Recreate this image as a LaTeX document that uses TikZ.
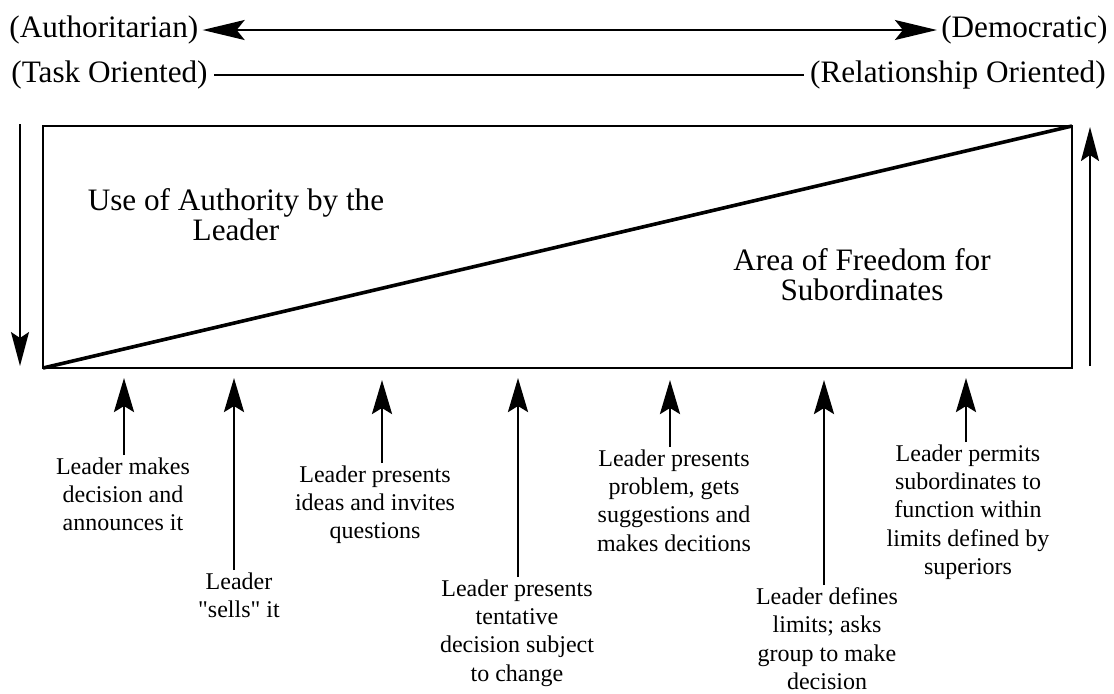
\documentclass[tikz,border=0pt]{standalone}
\usepackage{fontspec}
\setmainfont{Liberation Serif}
\newfontfamily\figfont{Liberation Serif}
\usetikzlibrary{arrows.meta, positioning}

\tikzset{
  bigtext/.style={font=\figfont\fontsize{15.6}{15}\selectfont, align=center},
  steptext/.style={font=\figfont\fontsize{12}{14.2}\selectfont, align=center, anchor=north, inner sep=1pt},
  uparrow/.style={-{Stealth[length=17pt, width=10pt, inset=3pt]}, line width=1.4pt},
  sidearrow/.style={-{Stealth[length=17pt, width=9pt, inset=3pt]}, line width=1pt},
}

\begin{document}
\begin{tikzpicture}[x=0.5pt, y=-0.5pt]
  \useasboundingbox (0,0) rectangle (1114,693);
  % Top scale: authoritarian <-> democratic
  \node[bigtext, anchor=west, inner sep=2pt] (auth) at (5,30) {(Authoritarian)};
  \node[bigtext, anchor=east, inner sep=2pt] (demo) at (1112,30) {(Democratic)};
  \draw[{Stealth[length=21pt, width=10pt, inset=4pt]}-{Stealth[length=21pt, width=10pt, inset=4pt]}, line width=1pt]
    (auth) -- (demo);
  % Task vs relationship line
  \node[bigtext, anchor=west, inner sep=3pt] (task) at (5,75) {(Task Oriented)};
  \node[bigtext, anchor=east, inner sep=3pt] (rel) at (1112,75) {(Relationship Oriented)};
  \draw[line width=0.8pt] (task) -- (rel);
  % Side arrows
  \coordinate (ltop) at (20,124);
  \coordinate (lbot) at (20,366);
  \draw[sidearrow] (ltop) -- (lbot);
  \coordinate (rbot) at (1090,366);
  \coordinate (rtop) at (1090,127);
  \draw[sidearrow] (rbot) -- (rtop);
  % Box and diagonal
  \coordinate (sw) at (43,368);
  \coordinate (ne) at (1072,126);
  \draw[line width=1.4pt] (sw) rectangle (ne);
  \draw[line width=1.8pt] (sw) -- (ne);
  \node[bigtext] (useauth) at (236,215) {Use of Authority by the\\Leader};
  \node[bigtext] (freedom) at (862,275) {Area of Freedom for\\Subordinates};
  % Leadership behaviours
  \coordinate (tip1) at (124,378);
  \node[steptext] (lbl1) at (123,455) {Leader makes\\decision and\\announces it};
  \draw[uparrow] (lbl1.north -| tip1) -- (tip1);
  \coordinate (tip2) at (234,378);
  \node[steptext] (lbl2) at (239,570) {Leader\\\symbol{"22}sells\symbol{"22} it};
  \draw[uparrow] (lbl2.north -| tip2) -- (tip2);
  \coordinate (tip3) at (382,380);
  \node[steptext] (lbl3) at (375,463) {Leader presents\\ideas and invites\\questions};
  \draw[uparrow] (lbl3.north -| tip3) -- (tip3);
  \coordinate (tip4) at (518,378);
  \node[steptext] (lbl4) at (517,577) {Leader presents\\tentative\\decision subject\\to change};
  \draw[uparrow] (lbl4.north -| tip4) -- (tip4);
  \coordinate (tip5) at (670,380);
  \node[steptext] (lbl5) at (674,447) {Leader presents\\problem, gets\\suggestions and\\makes decitions};
  \draw[uparrow] (lbl5.north -| tip5) -- (tip5);
  \coordinate (tip6) at (824,380);
  \node[steptext] (lbl6) at (827,585) {Leader defines\\limits; asks\\group to make\\decision};
  \draw[uparrow] (lbl6.north -| tip6) -- (tip6);
  \coordinate (tip7) at (966,378);
  \node[steptext] (lbl7) at (968,442) {Leader permits\\subordinates to\\function within\\limits defined by\\superiors};
  \draw[uparrow] (lbl7.north -| tip7) -- (tip7);
\end{tikzpicture}
\end{document}
